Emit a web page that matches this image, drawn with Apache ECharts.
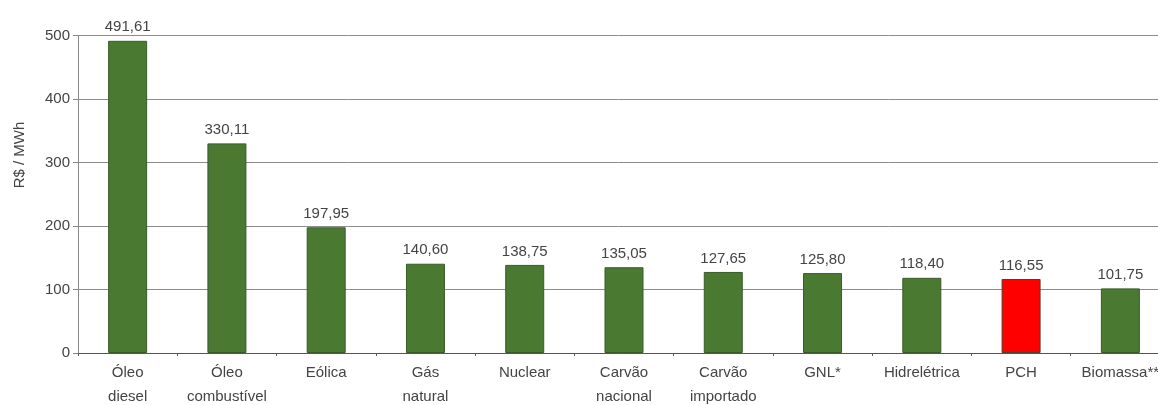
<!DOCTYPE html>
<html><head><meta charset="utf-8">
<script src="https://cdn.jsdelivr.net/npm/echarts@6/dist/echarts.min.js"></script>
<style>html,body{margin:0;padding:0;background:#fff}#c{width:1158px;height:405px}</style>
</head><body><div id="c"></div>
<script>
const categories = ['Óleo\ndiesel','Óleo\ncombustível','Eólica','Gás\nnatural','Nuclear','Carvão\nnacional','Carvão\nimportado','GNL*','Hidrelétrica','PCH','Biomassa**'];
const values = [491.61, 330.11, 197.95, 140.60, 138.75, 135.05, 127.65, 125.80, 118.40, 116.55, 101.75];
const highlight = 'PCH';
const yTicks = [0, 100, 200, 300, 400, 500];

const green = '#4a7a32', red = '#ff0000';
const FONT = 'Liberation Sans, Arial, sans-serif';
const chart = echarts.init(document.getElementById('c'));
chart.setOption({
  animation: false,
  backgroundColor: '#fff',
  textStyle: {fontFamily: FONT},
  grid: {left: 78, top: 35.5, bottom: 52, width: 1092, containLabel: false, outerBoundsMode: 'none'},
  graphic: [{
    type: 'text', x: 20, y: 155, rotation: Math.PI/2,
    style: {text: 'R$ / MWh', fill: '#444', font: '15px ' + FONT, align: 'center', verticalAlign: 'middle'}
  }],
  xAxis: {
    type: 'category', data: categories,
    axisLine: {lineStyle: {color: '#555', width: 1}},
    axisTick: {show: true, length: 3, lineStyle: {color: '#555'}},
    axisLabel: {color: '#444', fontSize: 15, interval: 0, lineHeight: 24, margin: 8}
  },
  yAxis: {
    type: 'value', min: yTicks[0], max: yTicks[yTicks.length - 1], interval: 100,
    axisLine: {show: true, lineStyle: {color: '#888'}},
    axisTick: {show: true, inside: false, length: 5, lineStyle: {color: '#888'}},
    axisLabel: {color: '#444', fontSize: 15, margin: 8},
    splitLine: {lineStyle: {color: '#8c8c8c', width: 1}}
  },
  series: [{
    type: 'bar', barWidth: 39,
    data: values.map((v, i) => ({
      value: v,
      itemStyle: categories[i] === highlight
        ? {color: red, borderColor: '#5a3a2a', borderWidth: 1}
        : {color: green, borderColor: '#3a5a28', borderWidth: 1}
    })),
    label: {
      show: true, position: 'top', distance: 6, color: '#444', fontSize: 15,
      formatter: p => p.value.toFixed(2).replace('.', ',')
    }
  }]
});
</script></body></html>
